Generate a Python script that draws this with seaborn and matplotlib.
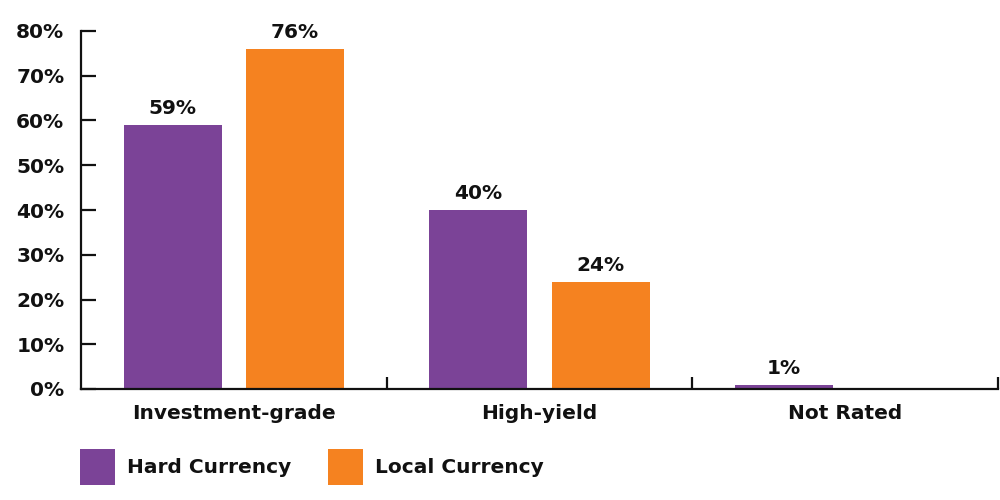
import matplotlib
matplotlib.use("Agg")
import matplotlib.pyplot as plt
import seaborn as sns
import pandas as pd
import numpy as np
from matplotlib.patches import Patch

categories = ["Investment-grade", "High-yield", "Not Rated"]
hard_currency = [59, 40, 1]
local_currency = [76, 24, 0]
series_names = ["Hard Currency", "Local Currency"]
y_ticks = [0, 10, 20, 30, 40, 50, 60, 70, 80]

colors = ["#7B4397", "#F58220"]

df = pd.DataFrame({
    "category": categories * 2,
    "series": [series_names[0]] * 3 + [series_names[1]] * 3,
    "value": hard_currency + local_currency,
})

sns.set_theme(style="white")
plt.rcParams["font.family"] = ["DejaVu Sans"]
plt.rcParams["font.weight"] = "bold"

FS = 14.5
fig = plt.figure(figsize=(10, 5), dpi=100)
ax = fig.add_axes([0.081, 0.222, 0.917, 0.716])

sns.barplot(data=df, x="category", y="value", hue="series", order=categories,
            hue_order=series_names, palette=colors, saturation=1, width=0.8, gap=0.2,
            linewidth=0, legend=False, ax=ax)

for container in ax.containers:
    labels = [f"{v:.0f}%" if v > 0 else "" for v in container.datavalues]
    ax.bar_label(container, labels=labels, padding=5, fontsize=FS,
                 fontweight="bold", color="#111111")

ax.set_xlim(-0.5, 2.5)
ax.set_ylim(0, 80)
ax.set_yticks(y_ticks)
ax.set_yticklabels([f"{t}%" for t in y_ticks])
ax.set_xticks(range(len(categories)))
ax.set_xticklabels(categories)
ax.set_xticks([0.5, 1.5, 2.5], minor=True)
ax.set_xlabel("")
ax.set_ylabel("")

for s in ["top", "right"]:
    ax.spines[s].set_visible(False)
for s in ["left", "bottom"]:
    ax.spines[s].set_color("#111111")
    ax.spines[s].set_linewidth(1.6)

ax.tick_params(axis="y", which="major", direction="in", length=11, width=1.6,
               color="#111111", labelsize=FS, pad=12, left=True, labelcolor="#111111")
ax.tick_params(axis="x", which="major", length=0, labelsize=FS, pad=11,
               labelcolor="#111111")
ax.tick_params(axis="x", which="minor", direction="in", length=9, width=1.6,
               color="#111111", bottom=True)
for lbl in ax.get_xticklabels() + ax.get_yticklabels():
    lbl.set_fontweight("bold")

handles = [Patch(facecolor=c, edgecolor="none", label=n) for c, n in zip(colors, series_names)]
leg = fig.legend(handles=handles, loc="center left", bbox_to_anchor=(0.062, 0.066),
                 ncol=2, frameon=False, handlelength=1.75, handleheight=2.3,
                 handletextpad=0.6, columnspacing=1.8,
                 prop={"weight": "bold", "size": FS})
for t in leg.get_texts():
    t.set_color("#111111")

fig.savefig("out.png", dpi=100)
